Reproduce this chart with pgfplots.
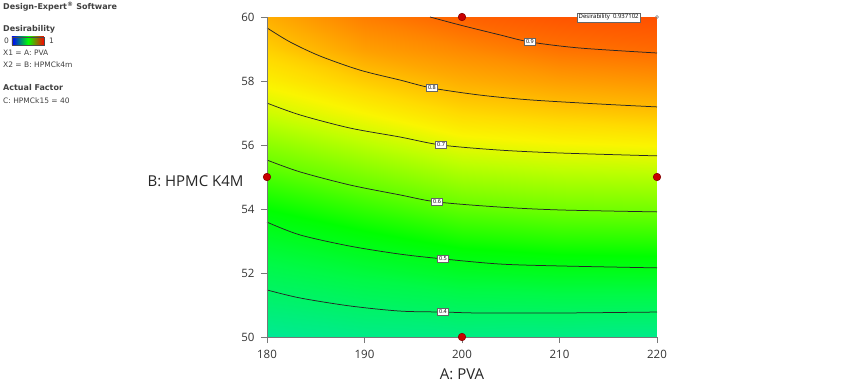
\documentclass[border=0pt]{standalone}
\usepackage{pgfplots}
\pgfplotsset{compat=1.18}
\usepackage{fontspec}
\setmainfont{Open Sans}
\newfontfamily\legfont{DejaVu Sans}
\definecolor{dotred}{RGB}{200,0,0}
\definecolor{axgray}{RGB}{120,120,120}
\begin{document}
\begin{tikzpicture}
\begin{axis}[
  scale only axis,
  width=390pt, height=320pt,
  xmin=180, xmax=220, ymin=50, ymax=60,
  xtick={180,190,200,210,220}, ytick={50,52,54,56,58,60},
  axis lines=left, axis line style={-,draw=axgray,line width=0.8pt},
  tick align=outside, major tick length=6pt, tick style={axgray,line width=0.8pt},
  /pgf/number format/assume math mode=true,
  ticklabel style={font=\fontsize{11.5}{12}\selectfont, text=black!80},
  xticklabel style={yshift=-4pt},
  yticklabel style={xshift=-3pt},
  xlabel={A: PVA}, ylabel={B: HPMC K4M},
  label style={font=\fontsize{15}{16}\selectfont, text=black!85},
  xlabel style={yshift=-3pt},
  ylabel style={rotate=-90, anchor=east, at={(axis description cs:0,0.5)}, xshift=-20pt, yshift=-4pt},
  colormap={de}{rgb255(0pt)=(0,0,255); rgb255(20pt)=(0,140,255); rgb255(30pt)=(0,220,190);
    rgb255(34pt)=(0,235,140); rgb255(44pt)=(0,250,70); rgb255(52pt)=(0,255,0);
    rgb255(60pt)=(110,255,0); rgb255(67pt)=(190,255,0); rgb255(72pt)=(250,245,0);
    rgb255(76pt)=(255,218,0); rgb255(80pt)=(255,185,0); rgb255(86pt)=(255,140,0);
    rgb255(93pt)=(255,85,0); rgb255(100pt)=(250,30,0)},
  point meta min=0, point meta max=1,
  clip=false, axis on top,
]
\addplot[surf, shader=interp, point meta=\thisrow{d}] table {
A B d
180 50 0.330
190 50 0.346
200 50 0.352
210 50 0.349
220 50 0.343

180 51 0.378
190 51 0.398
200 51 0.413
210 51 0.417
220 51 0.416

180 52 0.425
190 52 0.451
200 52 0.475
210 52 0.485
220 52 0.488

180 53 0.472
190 53 0.503
200 53 0.533
210 53 0.545
220 53 0.548

180 54 0.521
190 54 0.556
200 54 0.589
210 54 0.602
220 54 0.605

180 55 0.573
190 55 0.609
200 55 0.646
210 55 0.658
220 55 0.662

180 56 0.626
190 56 0.665
200 56 0.703
210 56 0.715
220 56 0.722

180 57 0.683
190 57 0.720
200 57 0.761
210 57 0.777
220 57 0.788

180 58 0.729
190 58 0.776
200 58 0.815
210 58 0.836
220 58 0.848

180 59 0.772
190 59 0.835
200 59 0.865
210 59 0.893
220 59 0.904

180 60 0.815
190 60 0.878
200 60 0.914
210 60 0.930
220 60 0.937
};
% contour lines
\addplot[black!85, line width=0.75pt, smooth] coordinates {(196.72,60.0)(199.79,59.75)(203.90,59.44)(206.97,59.22)(212.10,59.03)(220,58.875)};
\addplot[black!85, line width=0.75pt, smooth] coordinates {(180,59.66)(182.36,59.22)(185.44,58.78)(189.54,58.34)(193.64,58.03)(196.92,57.78)(201.85,57.56)(206.97,57.41)(214.15,57.28)(220,57.19)};
\addplot[black!85, line width=0.75pt, smooth] coordinates {(180,57.31)(183.38,56.94)(188.51,56.53)(193.64,56.25)(197.85,56.0)(203.90,55.84)(210.05,55.75)(220,55.66)};
\addplot[black!85, line width=0.75pt, smooth] coordinates {(180,55.53)(183.38,55.16)(188.51,54.75)(193.64,54.44)(197.44,54.22)(203.90,54.06)(210.05,53.97)(220,53.91)};
\addplot[black!85, line width=0.75pt, smooth] coordinates {(180,53.59)(183.38,53.19)(188.51,52.84)(193.64,52.59)(198.05,52.44)(203.90,52.28)(210.05,52.22)(220,52.16)};
\addplot[black!85, line width=0.75pt, smooth] coordinates {(180,51.47)(183.38,51.22)(188.51,50.97)(193.64,50.81)(198.05,50.78)(201.85,50.75)(210.05,50.75)(220,50.78)};
% contour labels
\begin{scope}[every node/.style={fill=white,draw=black!60,line width=0.5pt,inner sep=1.5pt,font=\fontsize{5.5}{6}\selectfont}]
\node at (axis cs:206.97,59.22) {0.9};
\node at (axis cs:196.92,57.78) {0.8};
\node at (axis cs:197.85,56.0) {0.7};
\node at (axis cs:197.44,54.22) {0.6};
\node at (axis cs:198.05,52.44) {0.5};
\node at (axis cs:198.05,50.78) {0.4};
\end{scope}
% design points
\addplot[only marks, mark=*, mark size=3.8pt, mark options={fill=dotred, draw=red!50!black, line width=0.5pt}] coordinates {(200,60)(180,55)(220,55)(200,50)};
\addplot[only marks, mark=o, mark size=1.5pt, mark options={draw=gray, line width=0.5pt}] coordinates {(220,60)};
\node[fill=white, draw=black!60, line width=0.6pt, inner sep=1.5pt, font=\fontsize{6}{7}\selectfont, anchor=south east] at (axis cs:218.3,59.84) {Desirability \ 0.937102};
\end{axis}
% top-left legend (axis box south west is the origin)
\begin{scope}[every node/.style={anchor=west,inner sep=0pt,text=black!75}]
\node at (-264pt,330pt) {\legfont\bfseries\fontsize{8}{9}\selectfont Design-Expert\textsuperscript{\textregistered} Software};
\node at (-264pt,308pt) {\legfont\bfseries\fontsize{8}{9}\selectfont Desirability};
\node at (-263pt,296pt) {\legfont\fontsize{7.5}{8}\selectfont 0};
\shade[left color=blue,right color=red,middle color={rgb,255:red,0;green,255;blue,0}] (-255pt,292pt) rectangle (-223pt,300pt);
\draw[black!70,line width=0.6pt] (-255pt,292pt) rectangle (-223pt,300pt);
\node at (-218pt,296pt) {\legfont\fontsize{7.5}{8}\selectfont 1};
\node at (-264pt,284pt) {\legfont\fontsize{7.5}{8}\selectfont X1 = A: PVA};
\node at (-264pt,272pt) {\legfont\fontsize{7.5}{8}\selectfont X2 = B: HPMCk4m};
\node at (-264pt,249pt) {\legfont\bfseries\fontsize{8}{9}\selectfont Actual Factor};
\node at (-264pt,236pt) {\legfont\fontsize{7.5}{8}\selectfont C: HPMCk15 = 40};
\end{scope}
\path[use as bounding box] (-267pt,-54pt) rectangle (597pt,337pt);
\end{tikzpicture}
\end{document}
